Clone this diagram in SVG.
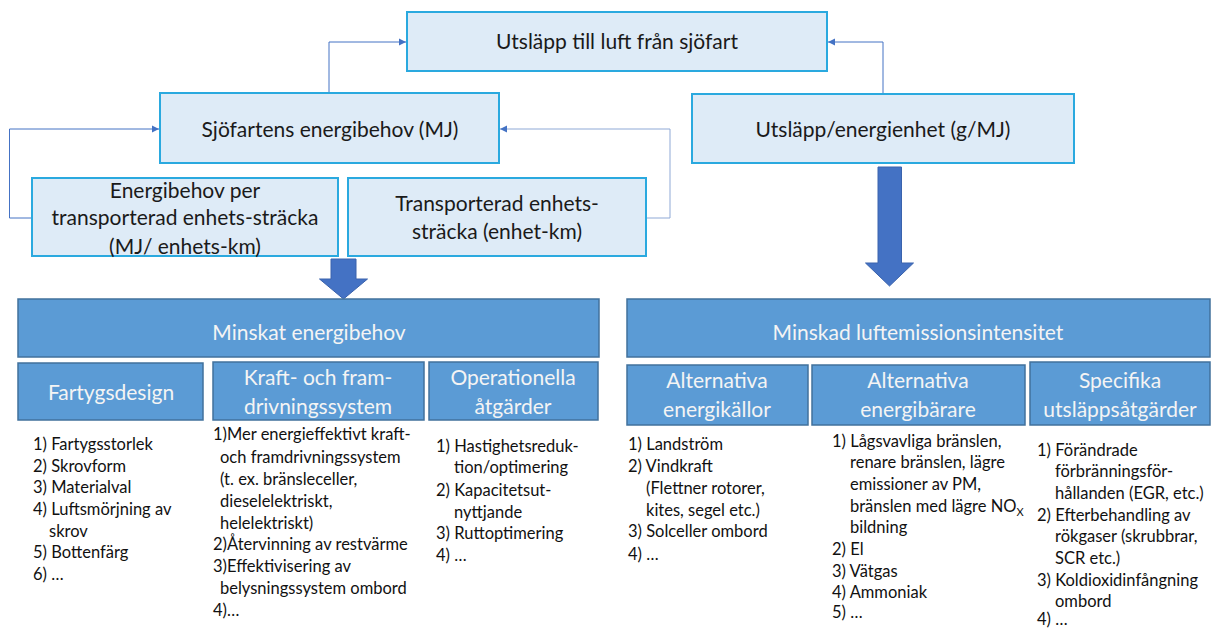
<svg xmlns="http://www.w3.org/2000/svg" width="1211" height="630" viewBox="0 0 1211 630">
<style>
.up{fill:#deebf7;stroke:#2aa9df;stroke-width:2}
.lo{fill:#5b9bd5;stroke:#41719c;stroke-width:1.5}
.t{font-family:Lato,"Liberation Sans",sans-serif;font-size:21px;fill:#1a1a1a;text-anchor:middle}
.w{font-family:Lato,"Liberation Sans",sans-serif;font-size:21px;fill:#f4f4f4;text-anchor:middle}
.l{font-family:Lato,"Liberation Sans",sans-serif;font-size:16.5px;fill:#111}
.c{fill:none;stroke:#4472c4;stroke-width:1}
.ba{fill:#4472c4;stroke:#3a63ad;stroke-width:1}
</style>
<defs>
<marker id="ah" markerWidth="8" markerHeight="8" refX="7" refY="4" orient="auto" markerUnits="userSpaceOnUse">
<path d="M0,0.5 L7,4 L0,7.5 Z" fill="#4472c4"/>
</marker>
</defs>
<rect width="1211" height="630" fill="#fff"/>
<g id="connectors">
<path class="c" d="M329,93 V42 H406" marker-end="url(#ah)"/>
<path class="c" d="M883,94 V42 H828" marker-end="url(#ah)"/>
<path class="c" d="M32,218 H9.5 V129 H159" marker-end="url(#ah)"/>
<path class="c" d="M646,218 H670 V129 H500" style="stroke:#8fa9d6" marker-end="url(#ah)"/>
<path class="ba" d="M331,259 H356 V279 H367.5 L343.5,299 L319.5,279 H331 Z"/>
<path class="ba" d="M878,167 H901.5 V263 H913.5 L889.5,286 L865.5,263 H878 Z"/>
</g>
<g id="n-top"><rect class="up" x="407" y="12" width="420" height="59"/><text class="t" x="617" y="49">Utsläpp till luft från sjöfart</text></g>
<g id="n-sjo"><rect class="up" x="160" y="93" width="339" height="70"/><text class="t" x="330" y="137">Sjöfartens energibehov (MJ)</text></g>
<g id="n-utsl"><rect class="up" x="692" y="94" width="382" height="69"/><text class="t" x="883" y="137">Utsläpp/energienhet (g/MJ)</text></g>
<g id="n-energi"><rect class="up" x="32" y="178" width="306" height="78"/>
<text class="t" x="185" y="198">Energibehov per</text>
<text class="t" x="185" y="225">transporterad enhets-sträcka</text>
<text class="t" x="185" y="254">(MJ/ enhets-km)</text></g>
<g id="n-transp"><rect class="up" x="348" y="178" width="298" height="78"/>
<text class="t" x="497" y="211">Transporterad enhets-</text>
<text class="t" x="497" y="239">sträcka (enhet-km)</text></g>
<g id="n-minskat"><rect class="lo" x="18" y="299" width="581" height="58"/><text class="w" x="309" y="340">Minskat energibehov</text></g>
<g id="n-fartyg"><rect class="lo" x="18" y="363" width="185" height="57"/><text class="w" x="111" y="400">Fartygsdesign</text></g>
<g id="n-kraft"><rect class="lo" x="213" y="362" width="211" height="58"/>
<text class="w" x="318" y="385">Kraft- och fram-</text>
<text class="w" x="318" y="414">drivningssystem</text></g>
<g id="n-oper"><rect class="lo" x="429" y="362" width="169" height="58"/>
<text class="w" x="513" y="385">Operationella</text>
<text class="w" x="513" y="414">åtgärder</text></g>
<g id="n-minskad"><rect class="lo" x="627" y="299" width="583" height="58"/><text class="w" x="918" y="340">Minskad luftemissionsintensitet</text></g>
<g id="n-kallor"><rect class="lo" x="627" y="365" width="181" height="60"/>
<text class="w" x="717" y="388">Alternativa</text>
<text class="w" x="717" y="417">energikällor</text></g>
<g id="n-barare"><rect class="lo" x="812" y="365" width="213" height="60"/>
<text class="w" x="918" y="388">Alternativa</text>
<text class="w" x="918" y="417">energibärare</text></g>
<g id="n-spec"><rect class="lo" x="1030" y="362" width="180" height="63"/>
<text class="w" x="1120" y="388">Specifika</text>
<text class="w" x="1120" y="417">utsläppsåtgärder</text></g>
<g id="list-fartyg">
<text class="l" x="33" y="450">1) Fartygsstorlek</text>
<text class="l" x="33" y="472">2) Skrovform</text>
<text class="l" x="33" y="493">3) Materialval</text>
<text class="l" x="33" y="515">4) Luftsmörjning av</text>
<text class="l" x="49" y="537">skrov</text>
<text class="l" x="33" y="558">5) Bottenfärg</text>
<text class="l" x="33" y="580">6) …</text>
</g>
<g id="list-kraft">
<text class="l" x="213" y="440">1)Mer energieffektivt  kraft-</text>
<text class="l" x="220" y="463">och framdrivningssystem</text>
<text class="l" x="220" y="485">(t. ex. bränsleceller,</text>
<text class="l" x="220" y="507">dieselelektriskt,</text>
<text class="l" x="220" y="529">helelektriskt)</text>
<text class="l" x="213" y="550">2)Återvinning  av restvärme</text>
<text class="l" x="213" y="572">3)Effektivisering  av</text>
<text class="l" x="220" y="594">belysningssystem  ombord</text>
<text class="l" x="213" y="616">4)…</text>
</g>
<g id="list-oper">
<text class="l" x="436" y="452">1) Hastighetsreduk-</text>
<text class="l" x="454" y="473">tion/optimering</text>
<text class="l" x="436" y="496">2) Kapacitetsut-</text>
<text class="l" x="454" y="518">nyttjande</text>
<text class="l" x="436" y="539">3) Ruttoptimering</text>
<text class="l" x="436" y="561">4) …</text>
</g>
<g id="list-kallor">
<text class="l" x="628" y="450">1) Landström</text>
<text class="l" x="628" y="472">2) Vindkraft</text>
<text class="l" x="646" y="494">(Flettner rotorer,</text>
<text class="l" x="646" y="516">kites, segel etc.)</text>
<text class="l" x="628" y="537">3) Solceller  ombord</text>
<text class="l" x="628" y="560">4) …</text>
</g>
<g id="list-barare">
<text class="l" x="832" y="447">1) Lågsvavliga bränslen,</text>
<text class="l" x="850" y="468">renare bränslen, lägre</text>
<text class="l" x="850" y="490">emissioner  av PM,</text>
<text class="l" x="850" y="512">bränslen med lägre NO<tspan font-size="11" dy="4">X</tspan></text>
<text class="l" x="850" y="533">bildning</text>
<text class="l" x="832" y="555">2) El</text>
<text class="l" x="832" y="577">3) Vätgas</text>
<text class="l" x="832" y="598">4) Ammoniak</text>
<text class="l" x="832" y="618">5) …</text>
</g>
<g id="list-spec">
<text class="l" x="1037" y="456">1) Förändrade</text>
<text class="l" x="1055" y="477">förbränningsför-</text>
<text class="l" x="1055" y="499">hållanden  (EGR, etc.)</text>
<text class="l" x="1037" y="521">2) Efterbehandling  av</text>
<text class="l" x="1055" y="542">rökgaser (skrubbrar,</text>
<text class="l" x="1055" y="564">SCR etc.)</text>
<text class="l" x="1037" y="586">3) Koldioxidinfångning</text>
<text class="l" x="1055" y="607">ombord</text>
<text class="l" x="1037" y="625">4) …</text>
</g>
</svg>
